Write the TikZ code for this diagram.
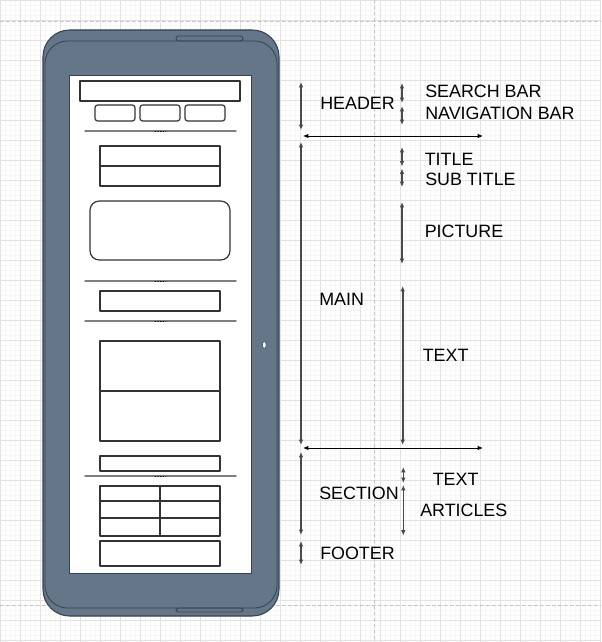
\documentclass[tikz,border=0pt]{standalone}
\usepackage{fontspec}
\setmainfont{Liberation Sans}
\usetikzlibrary{arrows.meta}
\definecolor{body}{HTML}{647687}
\definecolor{bodyline}{HTML}{314354}
\definecolor{gridmajor}{HTML}{E2E2E2}
\definecolor{gridminor}{HTML}{F7F7F7}
\definecolor{guide}{HTML}{C4C4C4}
\definecolor{dimgray}{HTML}{4A4A4A}
\begin{document}
\begin{tikzpicture}[x=0.75pt,y=-0.75pt, line join=round, line cap=round,
	lbl/.style={anchor=west,inner sep=0pt,font=\fontsize{13.4}{15}\selectfont},
	dim/.style={{Latex[length=4pt,width=3.4pt]}-{Latex[length=4pt,width=3.4pt]},draw=dimgray,line width=1.2pt},
	hdim/.style={{Latex[length=4pt,width=3.4pt]}-{Latex[length=4pt,width=3.4pt]},draw=black,line width=0.7pt},
	box/.style={draw=black!80,fill=white,line width=0.9pt},
	sep/.style={draw=gray,line width=1.1pt}]
	\useasboundingbox (0,0) rectangle (601,642);
	\fill[white] (0,0) rectangle (601,642);
	\foreach \i in {0,5,...,600} \draw[gridminor,line width=0.3pt] (\i,0)--(\i,642);
	\foreach \j in {0,5,...,640} \draw[gridminor,line width=0.3pt] (0,\j)--(601,\j);
	\foreach \i in {0,20,...,600} \draw[gridmajor,line width=0.5pt] (\i,0)--(\i,642);
	\foreach \j in {0,20,...,640} \draw[gridmajor,line width=0.5pt] (0,\j)--(601,\j);
	\draw[guide,line width=0.6pt,dash pattern=on 2.5pt off 2pt] (374,0)--(374,642) (0,21)--(601,21) (0,605)--(601,605);
	
	\draw[fill=body,draw=bodyline,line width=0.8pt,rounded corners=20pt] (43,30) rectangle (279,616);
	\draw[fill=body,draw=bodyline,line width=0.6pt,rounded corners=2pt] (176,36) rectangle (243,41) (176,608) rectangle (243,612);
	\draw[bodyline,line width=0.6pt,rounded corners=17pt] (45,41) rectangle (277,608);
	\draw[fill=white,draw=bodyline,line width=0.6pt] (69,75) rectangle (251,573);
	\draw[fill=white,draw=bodyline,line width=0.4pt] (264.3,345) ellipse [x radius=1.4pt,y radius=2.6pt];
	
	\draw[box] (80,81) rectangle (240,101);
	\foreach \x in {95,140,185}
	\draw[box,rounded corners=2pt] (\x,105) rectangle (\x+40,121);
	\foreach \y in {131,281,321,476}{
		\draw[sep] (85,\y)--(236,\y);
		\draw[black,line width=0.5pt,dash pattern=on 0.6pt off 1.4pt] (155,\y)--(166,\y);}
	\draw[box] (100,146) rectangle (220,166) (100,166) rectangle (220,186);
	\draw[box,rounded corners=7pt] (90,201) rectangle (230,260);
	\draw[box] (100,291) rectangle (220,311);
	\draw[box] (100,341) rectangle (220,391) (100,391) rectangle (220,441);
	\draw[box] (100,456) rectangle (220,471);
	\draw[box] (100,486) rectangle (220,536) (160,486)--(160,536) (100,501)--(220,501) (100,518)--(220,518);
	\draw[box] (100,541) rectangle (220,566);
	
	\path
	(301,82) coordinate (headT) (301,130) coordinate (headB)
	(301,142) coordinate (mainT) (301,445) coordinate (mainB)
	(301,452) coordinate (secT) (301,535) coordinate (secB)
	(301,541) coordinate (footT) (301,565) coordinate (footB)
	(402,83) coordinate (searchT) (402,103) coordinate (searchB)
	(402,106) coordinate (navT) (402,125) coordinate (navB)
	(402,147) coordinate (titleT) (402,166.5) coordinate (titleB)
	(402,168.5) coordinate (subT) (402,187) coordinate (subB)
	(402,202) coordinate (picT) (402,264) coordinate (picB)
	(402.7,286) coordinate (textT) (402.7,445) coordinate (textB)
	(403.3,467) coordinate (stextT) (403.3,483) coordinate (stextB)
	(403.3,485) coordinate (artT) (403.3,535.5) coordinate (artB)
	(303,136) coordinate (cutAL) (483,136) coordinate (cutAR)
	(303,448) coordinate (cutBL) (483,448) coordinate (cutBR)
	;
	\foreach \a in {head,main,sec,foot,search,nav,title,sub,pic,text,stext,art}
	\draw[dim] (\a T)--(\a B);
	\draw[hdim] (cutAL)--(cutAR);
	\draw[hdim] (cutBL)--(cutBR);
	
	\foreach \n/\x/\y/\t in {header/320/103/HEADER, main/319/299/MAIN, section/319/493.5/SECTION, footer/320/553.5/FOOTER,
		search/425/91/SEARCH BAR, navigation/425/113.5/NAVIGATION BAR, title/424.5/159/TITLE, subtitle/425/179/SUB TITLE,
		picture/424.5/231/PICTURE, text/422.5/355/TEXT, stext/432.5/479.5/TEXT, articles/420/510.5/ARTICLES}
	\node[lbl] (\n) at (\x,\y) {\t};
\end{tikzpicture}
\end{document}
